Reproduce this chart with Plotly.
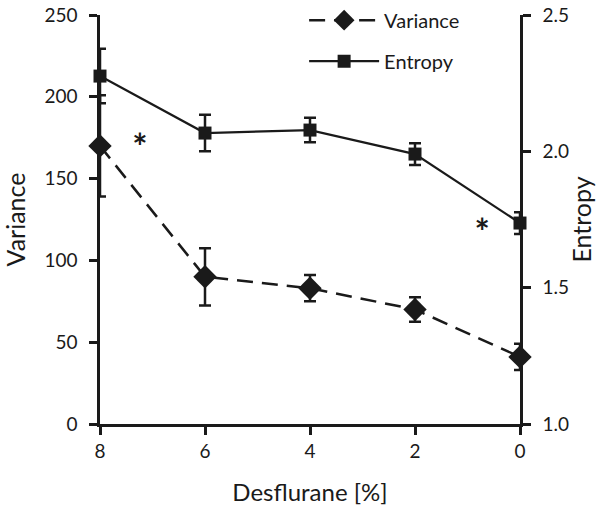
import plotly.graph_objects as go

desflurane = [8, 6, 4, 2, 0]
variance = [170, 90, 83, 70, 41]
variance_err = [31, 17.5, 8, 7.5, 8]
entropy = [2.276, 2.067, 2.078, 1.99, 1.737]
entropy_err = [0.10, 0.067, 0.045, 0.04, 0.04]

x_ticks = [8, 6, 4, 2, 0]
y1_ticks = [0, 50, 100, 150, 200, 250]
y2_ticks = [1.0, 1.5, 2.0, 2.5]
y2_labels = ["1.0", "1.5", "2.0", "2.5"]

# significance markers (x, variance-axis y)
star_x = [7.24, 0.72]
star_y = [167, 115]

FONT = "Lato, 'Open Sans', sans-serif"
BLACK = "#1a1a1a"

fig = go.Figure()

fig.add_trace(go.Scatter(
    x=desflurane, y=variance, name="Variance", legendgroup="v",
    mode="lines+markers",
    line=dict(color=BLACK, width=2.5, dash="16px,9px"),
    marker=dict(symbol="diamond", size=18, color=BLACK),
    error_y=dict(type="data", array=variance_err, visible=True,
                 color=BLACK, thickness=2.5, width=6),
    cliponaxis=False,
))

fig.add_trace(go.Scatter(
    x=desflurane, y=entropy, name="Entropy", yaxis="y2", legendgroup="e",
    mode="lines+markers",
    line=dict(color=BLACK, width=2.2),
    marker=dict(symbol="square", size=13, color=BLACK),
    error_y=dict(type="data", array=entropy_err, visible=True,
                 color=BLACK, thickness=2.5, width=6),
    cliponaxis=False,
))

fig.add_trace(go.Scatter(
    x=star_x, y=star_y, mode="text", text=["*", "*"],
    textfont=dict(size=36, color=BLACK, family=FONT, weight="bold"),
    showlegend=False, hoverinfo="skip", cliponaxis=False,
))

fig.update_layout(
    width=604, height=512,
    margin=dict(l=100, r=84, t=15, b=88, autoexpand=False),
    paper_bgcolor="white", plot_bgcolor="white",
    font=dict(family=FONT, size=18, color=BLACK),
    showlegend=True,
    legend=dict(x=0.486, y=1.035, xanchor="left", yanchor="top",
                traceorder="grouped", tracegroupgap=12, itemwidth=70,
                bgcolor="rgba(0,0,0,0)", font=dict(size=20)),
    xaxis=dict(
        range=[8, 0], tickvals=x_ticks, ticktext=[str(v) for v in x_ticks],
        showgrid=False, zeroline=False, showline=True, linecolor=BLACK,
        linewidth=2.5, ticks="outside", ticklen=8, tickwidth=2.5,
        tickcolor=BLACK, ticklabeloverflow="allow",
        title=dict(text="Desflurane [%]", font=dict(size=24), standoff=24),
        tickfont=dict(size=19),
    ),
    yaxis=dict(
        range=[0, 250], tickvals=y1_ticks, showgrid=False, zeroline=False,
        showline=True, linecolor=BLACK, linewidth=2.5, ticks="outside",
        ticklen=8, tickwidth=2.5, tickcolor=BLACK, ticklabelstandoff=8,
        ticklabeloverflow="allow",
        title=dict(text="Variance", font=dict(size=25), standoff=17),
        tickfont=dict(size=19),
    ),
    yaxis2=dict(
        range=[1.0, 2.5], tickvals=y2_ticks, ticktext=y2_labels,
        overlaying="y", side="right", showgrid=False, zeroline=False,
        showline=True, linecolor=BLACK, linewidth=2.5, ticks="outside",
        ticklen=8, tickwidth=2.5, tickcolor=BLACK, ticklabelstandoff=8,
        ticklabeloverflow="allow",
        title=dict(text="Entropy", font=dict(size=25), standoff=6),
        tickfont=dict(size=19),
    ),
)

fig.write_html("out.html",
               config={"displayModeBar": False},
               post_script="document.body.style.margin='0';")
